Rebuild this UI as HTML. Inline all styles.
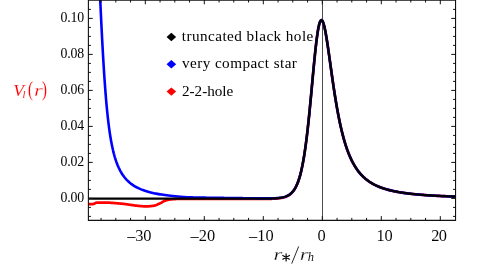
<!DOCTYPE html>
<html><head><meta charset="utf-8"><title>plot</title>
<style>
html,body{margin:0;padding:0;background:#fff;}
body{width:491px;height:275px;overflow:hidden;}
svg{display:block;will-change:transform;opacity:0.999;}
text{font-family:"Liberation Serif",serif;fill:#000;stroke:#fff;stroke-width:0.05px;}
.rd text{fill:#f00;}
.leg text{stroke:none;}
text.thin{stroke-width:0.25px;}
</style></head><body>
<svg width="491" height="275" viewBox="0 0 491 275">
<rect width="491" height="275" fill="#fff"/>
<defs><clipPath id="c"><rect x="88.4" y="0" width="367.15" height="220.4"/></clipPath></defs>
<line x1="322.5" y1="0" x2="322.5" y2="220.4" stroke="#111" stroke-width="0.75"/>
<g clip-path="url(#c)" fill="none" stroke-linejoin="round" stroke-linecap="butt">
<path d="M86.00,204.10 L86.58,204.10 L87.16,204.10 L87.75,204.10 L88.33,204.10 L88.92,204.10 L89.51,204.10 L90.10,204.10 L90.69,204.10 L91.27,204.10 L91.85,204.10 L92.42,204.10 L92.99,204.10 L93.54,204.03 L94.07,203.80 L94.59,203.48 L95.12,203.15 L95.65,202.88 L96.19,202.75 L96.75,202.72 L97.31,202.70 L97.88,202.68 L98.45,202.66 L99.03,202.64 L99.62,202.62 L100.20,202.61 L100.79,202.59 L101.38,202.58 L101.97,202.57 L102.56,202.57 L103.15,202.56 L103.74,202.56 L104.33,202.55 L104.92,202.55 L105.50,202.55 L106.08,202.55 L106.66,202.57 L107.24,202.58 L107.82,202.60 L108.40,202.63 L108.99,202.66 L109.57,202.70 L110.15,202.74 L110.73,202.78 L111.31,202.82 L111.89,202.86 L112.47,202.91 L113.05,202.96 L113.63,203.00 L114.21,203.05 L114.79,203.10 L115.37,203.14 L115.95,203.18 L116.53,203.23 L117.11,203.28 L117.69,203.33 L118.27,203.38 L118.85,203.43 L119.43,203.48 L120.01,203.54 L120.59,203.60 L121.17,203.65 L121.75,203.71 L122.33,203.77 L122.90,203.84 L123.48,203.90 L124.06,203.96 L124.64,204.03 L125.22,204.09 L125.80,204.16 L126.37,204.23 L126.95,204.31 L127.53,204.39 L128.10,204.47 L128.68,204.56 L129.25,204.65 L129.83,204.74 L130.40,204.83 L130.98,204.92 L131.55,205.01 L132.13,205.10 L132.70,205.19 L133.28,205.27 L133.86,205.35 L134.43,205.43 L135.01,205.50 L135.59,205.57 L136.16,205.63 L136.74,205.69 L137.32,205.75 L137.90,205.81 L138.48,205.88 L139.06,205.94 L139.64,206.00 L140.22,206.06 L140.80,206.11 L141.38,206.17 L141.96,206.22 L142.54,206.26 L143.12,206.30 L143.70,206.34 L144.28,206.36 L144.87,206.38 L145.45,206.40 L146.03,206.40 L146.61,206.39 L147.19,206.38 L147.78,206.36 L148.36,206.33 L148.95,206.29 L149.53,206.24 L150.12,206.19 L150.70,206.14 L151.28,206.07 L151.86,206.01 L152.43,205.94 L153.00,205.87 L153.56,205.79 L154.12,205.69 L154.68,205.56 L155.24,205.41 L155.79,205.22 L156.34,205.02 L156.89,204.80 L157.43,204.57 L157.97,204.33 L158.51,204.08 L159.05,203.83 L159.58,203.59 L160.11,203.35 L160.63,203.09 L161.14,202.81 L161.65,202.51 L162.15,202.19 L162.65,201.88 L163.15,201.57 L163.66,201.28 L164.17,201.01 L164.70,200.78 L165.23,200.59 L165.77,200.43 L166.33,200.27 L166.89,200.12 L167.46,199.98 L168.04,199.85 L168.61,199.74 L169.19,199.63 L169.77,199.54 L170.35,199.47 L170.92,199.40 L171.50,199.34 L172.08,199.29 L172.66,199.23 L173.24,199.18 L173.82,199.14 L174.40,199.10 L174.98,199.06 L175.56,199.03 L176.15,199.01 L176.73,199.00 L177.31,198.99 L177.89,198.97 L178.47,198.96 L179.05,198.95 L179.63,198.94 L180.22,198.94 L180.80,198.93 L181.38,198.92 L181.96,198.91 L182.54,198.91 L183.13,198.91 L183.71,198.90 L184.29,198.90 L184.87,198.90 L185.45,198.90 L186.04,198.90 L186.62,198.90 L187.20,198.90 L187.78,198.90 L188.36,198.90 L188.95,198.90 L189.53,198.90 L190.11,198.90 L190.69,198.90 L191.27,198.90 L191.85,198.90 L192.44,198.90 L193.02,198.90 L193.60,198.90 L194.18,198.90 L194.76,198.90 L195.35,198.90 L195.93,198.90 L196.51,198.90 L197.09,198.90 L197.67,198.90 L198.25,198.90 L198.84,198.90 L199.42,198.90 L200.00,198.90 L200.40,199.00 L201.40,199.00 L202.40,199.00 L203.40,199.00 L204.40,199.00 L205.40,199.00 L206.40,199.00 L207.40,199.00 L208.40,199.00 L209.40,199.00 L210.40,199.00 L211.40,199.00 L212.40,199.00 L213.40,199.00 L214.40,199.00 L215.40,199.00 L216.40,199.00 L217.40,199.00 L218.40,199.00 L219.40,199.00 L220.40,199.00 L221.40,199.00 L222.40,199.00 L223.40,199.00 L224.40,199.00 L225.40,199.00 L226.40,199.00 L227.40,199.00 L228.40,199.00 L229.40,199.00 L230.40,199.00 L231.40,199.00 L232.40,199.00 L233.40,199.00 L234.40,199.00 L235.40,199.00 L236.40,199.00 L237.40,199.00 L238.40,199.00 L239.40,199.00 L240.40,199.00 L241.40,199.00 L242.40,199.00 L243.40,199.00 L244.40,199.00 L245.40,199.00 L246.40,199.00 L247.40,199.00 L248.40,199.00 L249.40,199.00 L250.40,198.99 L251.40,198.99 L252.40,198.99 L253.40,198.99 L254.40,198.99 L255.40,198.99 L256.40,198.98 L257.40,198.98 L258.40,198.98 L259.40,198.97 L260.40,198.97 L261.40,198.96 L262.40,198.96 L263.40,198.95 L264.40,198.94 L265.40,198.93 L266.40,198.92 L267.40,198.90 L268.40,198.88 L269.40,198.86 L270.40,198.84 L271.40,198.81 L272.40,198.77 L273.40,198.73 L274.40,198.68 L275.40,198.62 L276.40,198.55 L277.40,198.46 L278.40,198.37 L279.40,198.25 L280.40,198.11 L281.40,197.95 L282.40,197.75 L283.40,197.52 L284.40,197.25 L285.40,196.92 L286.40,196.52 L287.40,196.05 L288.40,195.51 L289.40,194.86 L290.40,194.10 L291.40,193.22 L292.40,192.18 L293.40,190.95 L294.40,189.52 L295.40,187.85 L296.40,185.89 L297.40,183.60 L298.40,180.96 L299.40,177.88 L300.40,174.32 L301.40,170.24 L302.40,165.58 L303.40,160.24 L304.40,154.20 L305.40,147.42 L306.40,139.88 L307.40,131.56 L308.40,122.49 L309.40,112.76 L310.40,102.47 L311.40,91.80 L312.40,80.95 L313.40,70.18 L314.40,59.76 L315.40,50.04 L316.40,41.29 L317.40,33.82 L318.40,27.83 L319.40,23.50 L320.40,20.90 L321.40,20.04 L322.40,20.83 L323.40,23.15 L324.40,26.80 L325.40,31.56 L326.40,37.21 L327.40,43.54 L328.40,50.32 L329.40,57.37 L330.40,64.55 L331.40,71.71 L332.40,78.76 L333.40,85.61 L334.40,92.21 L335.40,98.51 L336.40,104.50 L337.40,110.17 L338.40,115.50 L339.40,120.50 L340.40,125.18 L341.40,129.56 L342.40,133.64 L343.40,137.44 L344.40,140.98 L345.40,144.28 L346.40,147.35 L347.40,150.21 L348.40,152.87 L349.40,155.34 L350.40,157.65 L351.40,159.80 L352.40,161.80 L353.40,163.68 L354.40,165.42 L355.40,167.06 L356.40,168.58 L357.40,170.01 L358.40,171.35 L359.40,172.61 L360.40,173.79 L361.40,174.90 L362.40,175.94 L363.40,176.92 L364.40,177.84 L365.40,178.71 L366.40,179.52 L367.40,180.30 L368.40,181.03 L369.40,181.72 L370.40,182.37 L371.40,182.99 L372.40,183.58 L373.40,184.13 L374.40,184.66 L375.40,185.16 L376.40,185.64 L377.40,186.09 L378.40,186.52 L379.40,186.93 L380.40,187.32 L381.40,187.69 L382.40,188.05 L383.40,188.39 L384.40,188.71 L385.40,189.02 L386.40,189.32 L387.40,189.60 L388.40,189.87 L389.40,190.13 L390.40,190.38 L391.40,190.62 L392.40,190.84 L393.40,191.06 L394.40,191.28 L395.40,191.48 L396.40,191.67 L397.40,191.86 L398.40,192.04 L399.40,192.21 L400.40,192.38 L401.40,192.54 L402.40,192.69 L403.40,192.84 L404.40,192.99 L405.40,193.13 L406.40,193.26 L407.40,193.39 L408.40,193.52 L409.40,193.64 L410.40,193.75 L411.40,193.87 L412.40,193.97 L413.40,194.08 L414.40,194.18 L415.40,194.28 L416.40,194.38 L417.40,194.47 L418.40,194.56 L419.40,194.65 L420.40,194.73 L421.40,194.81 L422.40,194.89 L423.40,194.97 L424.40,195.04 L425.40,195.12 L426.40,195.19 L427.40,195.26 L428.40,195.32 L429.40,195.39 L430.40,195.45 L431.40,195.51 L432.40,195.57 L433.40,195.63 L434.40,195.69 L435.40,195.74 L436.40,195.79 L437.40,195.85 L438.40,195.90 L439.40,195.95 L440.40,195.99 L441.40,196.04 L442.40,196.09 L443.40,196.13 L444.40,196.17 L445.40,196.22 L446.40,196.26 L447.40,196.30 L448.40,196.34 L449.40,196.38 L450.40,196.41 L451.40,196.45 L452.40,196.49 L453.40,196.52 L454.40,196.55 L455.40,196.59" stroke="#ff0000" stroke-width="2.7"/>
<path d="M99.96,-6.00 L100.08,-3.36 L100.20,-0.71 L100.32,1.93 L100.44,4.58 L100.57,7.22 L100.69,9.86 L100.81,12.51 L100.94,15.15 L101.07,17.80 L101.19,20.44 L101.32,23.08 L101.45,25.73 L101.59,28.37 L101.72,31.02 L101.86,33.66 L101.99,36.31 L102.13,38.95 L102.27,41.59 L102.41,44.24 L102.56,46.88 L102.70,49.53 L102.85,52.17 L103.00,54.81 L103.16,57.46 L103.31,60.10 L103.47,62.75 L103.63,65.39 L103.80,68.03 L103.96,70.68 L104.13,73.32 L104.31,75.97 L104.49,78.61 L104.67,81.25 L104.86,83.90 L105.05,86.54 L105.25,89.19 L105.45,91.83 L105.66,94.47 L105.88,97.12 L106.10,99.76 L106.33,102.41 L106.57,105.05 L106.82,107.69 L107.07,110.34 L107.34,112.98 L107.62,115.63 L107.91,118.27 L108.21,120.92 L108.53,123.56 L108.86,126.20 L109.21,128.85 L109.58,131.49 L109.98,134.14 L110.39,136.78 L110.84,139.42 L111.31,142.07 L111.82,144.71 L112.37,147.36 L112.96,150.00 L113.01,150.24 L113.07,150.47 L113.13,150.71 L113.18,150.95 L113.24,151.19 L113.30,151.42 L113.36,151.66 L113.41,151.90 L113.47,152.13 L113.53,152.37 L113.59,152.61 L113.65,152.85 L113.71,153.08 L113.77,153.32 L113.84,153.56 L113.90,153.79 L113.96,154.03 L114.02,154.27 L114.09,154.51 L114.15,154.74 L114.22,154.98 L114.28,155.22 L114.35,155.46 L114.41,155.69 L114.48,155.93 L114.55,156.17 L114.62,156.40 L114.69,156.64 L114.75,156.88 L114.82,157.12 L114.89,157.35 L114.97,157.59 L115.04,157.83 L115.11,158.06 L115.18,158.30 L115.26,158.54 L115.33,158.78 L115.41,159.01 L115.48,159.25 L115.56,159.49 L115.63,159.72 L115.71,159.96 L115.79,160.20 L115.87,160.44 L115.95,160.67 L116.03,160.91 L116.11,161.15 L116.19,161.38 L116.28,161.62 L116.36,161.86 L116.45,162.10 L116.53,162.33 L116.62,162.57 L116.70,162.81 L116.79,163.05 L116.88,163.28 L116.97,163.52 L117.06,163.76 L117.15,163.99 L117.25,164.23 L117.34,164.47 L117.43,164.71 L117.53,164.94 L117.63,165.18 L117.72,165.42 L117.82,165.65 L117.92,165.89 L118.02,166.13 L118.13,166.37 L118.23,166.60 L118.33,166.84 L118.44,167.08 L118.55,167.31 L118.65,167.55 L118.76,167.79 L118.87,168.03 L118.98,168.26 L119.10,168.50 L119.21,168.74 L119.33,168.97 L119.44,169.21 L119.56,169.45 L119.68,169.69 L119.80,169.92 L119.93,170.16 L120.05,170.40 L120.18,170.64 L120.30,170.87 L120.43,171.11 L120.56,171.35 L120.70,171.58 L120.83,171.82 L120.97,172.06 L121.10,172.30 L121.24,172.53 L121.38,172.77 L121.53,173.01 L121.67,173.24 L121.82,173.48 L121.97,173.72 L122.12,173.96 L122.27,174.19 L122.43,174.43 L122.59,174.67 L122.75,174.90 L122.91,175.14 L123.08,175.38 L123.24,175.62 L123.41,175.85 L123.59,176.09 L123.76,176.33 L123.94,176.56 L124.12,176.80 L124.30,177.04 L124.49,177.28 L124.68,177.51 L124.87,177.75 L125.07,177.99 L125.27,178.23 L125.47,178.46 L125.67,178.70 L125.88,178.94 L126.10,179.17 L126.31,179.41 L126.53,179.65 L126.76,179.89 L126.98,180.12 L127.22,180.36 L127.45,180.60 L127.70,180.83 L127.94,181.07 L128.19,181.31 L128.45,181.55 L128.71,181.78 L128.97,182.02 L129.24,182.26 L129.52,182.49 L129.80,182.73 L130.09,182.97 L130.38,183.21 L130.68,183.44 L130.99,183.68 L131.30,183.92 L131.62,184.15 L131.95,184.39 L132.28,184.63 L132.62,184.87 L132.97,185.10 L133.33,185.34 L133.70,185.58 L134.08,185.82 L134.46,186.05 L134.86,186.29 L135.27,186.53 L135.68,186.76 L136.11,187.00 L136.55,187.24 L137.00,187.48 L137.46,187.71 L137.94,187.95 L138.43,188.19 L138.94,188.42 L139.46,188.66 L140.00,188.90 L140.55,189.14 L141.12,189.37 L141.72,189.61 L142.33,189.85 L142.96,190.08 L143.61,190.32 L144.29,190.56 L144.99,190.80 L145.72,191.03 L146.48,191.27 L147.27,191.51 L148.09,191.74 L148.94,191.98 L149.83,192.22 L150.76,192.46 L151.74,192.69 L152.75,192.93 L153.82,193.17 L154.95,193.41 L156.13,193.64 L157.38,193.88 L158.69,194.12 L160.09,194.35 L161.57,194.59 L163.14,194.83 L164.82,195.07 L166.61,195.30 L168.53,195.54 L170.60,195.78 L172.84,196.01 L175.26,196.25 L177.89,196.49 L180.75,196.73 L183.86,196.96 L187.22,197.20 L188.40,197.33 L189.40,197.35 L190.40,197.37 L191.40,197.39 L192.40,197.41 L193.40,197.43 L194.40,197.44 L195.40,197.46 L196.40,197.48 L197.40,197.50 L198.40,197.52 L199.40,197.54 L200.40,197.56 L201.40,197.58 L202.40,197.60 L203.40,197.62 L204.40,197.64 L205.40,197.66 L206.40,197.68 L207.40,197.70 L208.40,197.72 L209.40,197.74 L210.40,197.75 L211.40,197.77 L212.40,197.78 L213.40,197.79 L214.40,197.80 L215.40,197.82 L216.40,197.83 L217.40,197.84 L218.40,197.85 L219.40,197.87 L220.40,197.88 L221.40,197.89 L222.40,197.90 L223.40,197.92 L224.40,197.93 L225.40,197.94 L226.40,197.95 L227.40,197.97 L228.40,197.98 L229.40,197.99 L230.40,198.01 L231.40,198.02 L232.40,198.03 L233.40,198.05 L234.40,198.06 L235.40,198.07 L236.40,198.08 L237.40,198.10 L238.40,198.11 L239.40,198.12 L240.40,198.14 L241.40,198.15 L242.40,198.16 L243.40,198.18 L244.40,198.19 L245.40,198.20 L246.40,198.22 L247.40,198.23 L248.40,198.24 L249.40,198.25 L250.40,198.27 L251.40,198.28 L252.40,198.29 L253.40,198.30 L254.40,198.31 L255.40,198.33 L256.40,198.34 L257.40,198.35 L258.40,198.36 L259.40,198.37 L260.40,198.37 L261.40,198.38 L262.40,198.39 L263.40,198.39 L264.40,198.39 L265.40,198.39 L266.40,198.39 L267.40,198.39 L268.40,198.38 L269.40,198.37 L270.40,198.36 L271.40,198.34 L272.40,198.32 L273.40,198.29 L274.40,198.25 L275.40,198.20 L276.40,198.14 L277.40,198.07 L278.40,197.99 L279.40,197.88 L280.40,197.75 L281.40,197.60 L282.40,197.42 L283.40,197.20 L284.40,196.94 L285.40,196.63 L286.40,196.25 L287.40,195.80 L288.40,195.27 L289.40,194.65 L290.40,193.91 L291.40,193.04 L292.40,192.02 L293.40,190.82 L294.40,189.41 L295.40,187.76 L296.40,185.82 L297.40,183.55 L298.40,180.92 L299.40,177.86 L300.40,174.32 L301.40,170.24 L302.40,165.58 L303.40,160.24 L304.40,154.20 L305.40,147.42 L306.40,139.88 L307.40,131.56 L308.40,122.49 L309.40,112.76 L310.40,102.47 L311.40,91.80 L312.40,80.95 L313.40,70.18 L314.40,59.76 L315.40,50.04 L316.40,41.29 L317.40,33.82 L318.40,27.83 L319.40,23.50 L320.40,20.90 L321.40,20.04 L322.40,20.83 L323.40,23.15 L324.40,26.80 L325.40,31.56 L326.40,37.21 L327.40,43.54 L328.40,50.32 L329.40,57.37 L330.40,64.55 L331.40,71.71 L332.40,78.76 L333.40,85.61 L334.40,92.21 L335.40,98.51 L336.40,104.50 L337.40,110.17 L338.40,115.50 L339.40,120.50 L340.40,125.18 L341.40,129.56 L342.40,133.64 L343.40,137.44 L344.40,140.98 L345.40,144.28 L346.40,147.35 L347.40,150.21 L348.40,152.87 L349.40,155.34 L350.40,157.65 L351.40,159.80 L352.40,161.80 L353.40,163.68 L354.40,165.42 L355.40,167.06 L356.40,168.58 L357.40,170.01 L358.40,171.35 L359.40,172.61 L360.40,173.79 L361.40,174.90 L362.40,175.94 L363.40,176.92 L364.40,177.84 L365.40,178.71 L366.40,179.52 L367.40,180.30 L368.40,181.03 L369.40,181.72 L370.40,182.37 L371.40,182.99 L372.40,183.58 L373.40,184.13 L374.40,184.66 L375.40,185.16 L376.40,185.64 L377.40,186.09 L378.40,186.52 L379.40,186.93 L380.40,187.32 L381.40,187.69 L382.40,188.05 L383.40,188.39 L384.40,188.71 L385.40,189.02 L386.40,189.32 L387.40,189.60 L388.40,189.87 L389.40,190.13 L390.40,190.38 L391.40,190.62 L392.40,190.84 L393.40,191.06 L394.40,191.28 L395.40,191.48 L396.40,191.67 L397.40,191.86 L398.40,192.04 L399.40,192.21 L400.40,192.38 L401.40,192.54 L402.40,192.69 L403.40,192.84 L404.40,192.99 L405.40,193.13 L406.40,193.26 L407.40,193.39 L408.40,193.52 L409.40,193.64 L410.40,193.75 L411.40,193.87 L412.40,193.97 L413.40,194.08 L414.40,194.18 L415.40,194.28 L416.40,194.38 L417.40,194.47 L418.40,194.56 L419.40,194.65 L420.40,194.73 L421.40,194.81 L422.40,194.89 L423.40,194.97 L424.40,195.04 L425.40,195.12 L426.40,195.19 L427.40,195.26 L428.40,195.32 L429.40,195.39 L430.40,195.45 L431.40,195.51 L432.40,195.57 L433.40,195.63 L434.40,195.69 L435.40,195.74 L436.40,195.79 L437.40,195.85 L438.40,195.90 L439.40,195.95 L440.40,195.99 L441.40,196.04 L442.40,196.09 L443.40,196.13 L444.40,196.17 L445.40,196.22 L446.40,196.26 L447.40,196.30 L448.40,196.34 L449.40,196.38 L450.40,196.41 L451.40,196.45 L452.40,196.49 L453.40,196.52 L454.40,196.55 L455.40,196.59" stroke="#0000ff" stroke-width="2.6"/>
<path d="M88.40,198.70 L89.40,198.70 L90.40,198.70 L91.40,198.70 L92.40,198.70 L93.40,198.70 L94.40,198.70 L95.40,198.70 L96.40,198.70 L97.40,198.70 L98.40,198.70 L99.40,198.70 L100.40,198.70 L101.40,198.70 L102.40,198.70 L103.40,198.70 L104.40,198.70 L105.40,198.70 L106.40,198.70 L107.40,198.70 L108.40,198.70 L109.40,198.70 L110.40,198.70 L111.40,198.70 L112.40,198.70 L113.40,198.70 L114.40,198.70 L115.40,198.70 L116.40,198.70 L117.40,198.70 L118.40,198.70 L119.40,198.70 L120.40,198.70 L121.40,198.70 L122.40,198.70 L123.40,198.70 L124.40,198.70 L125.40,198.70 L126.40,198.70 L127.40,198.70 L128.40,198.70 L129.40,198.70 L130.40,198.70 L131.40,198.70 L132.40,198.70 L133.40,198.70 L134.40,198.70 L135.40,198.70 L136.40,198.70 L137.40,198.70 L138.40,198.70 L139.40,198.70 L140.40,198.70 L141.40,198.70 L142.40,198.70 L143.40,198.70 L144.40,198.70 L145.40,198.70 L146.40,198.70 L147.40,198.70 L148.40,198.70 L149.40,198.70 L150.40,198.70 L151.40,198.70 L152.40,198.70 L153.40,198.70 L154.40,198.70 L155.40,198.70 L156.40,198.70 L157.40,198.70 L158.40,198.70 L159.40,198.70 L160.40,198.70 L161.40,198.70 L162.40,198.70 L163.40,198.70 L164.40,198.70 L165.40,198.70 L166.40,198.70 L167.40,198.70 L168.40,198.70 L169.40,198.70 L170.40,198.70 L171.40,198.70 L172.40,198.70 L173.40,198.70 L174.40,198.70 L175.40,198.70 L176.40,198.70 L177.40,198.70 L178.40,198.70 L179.40,198.70 L180.40,198.70 L181.40,198.70 L182.40,198.70 L183.40,198.70 L184.40,198.70 L185.40,198.70 L186.40,198.70 L187.40,198.70 L188.40,198.70 L189.40,198.70 L190.40,198.70 L191.40,198.70 L192.40,198.70 L193.40,198.70 L194.40,198.70 L195.40,198.70 L196.40,198.70 L197.40,198.70 L198.40,198.70 L199.40,198.70 L200.40,198.70 L201.40,198.70 L202.40,198.70 L203.40,198.70 L204.40,198.70 L205.40,198.70 L206.40,198.70 L207.40,198.70 L208.40,198.70 L209.40,198.70 L210.40,198.70 L211.40,198.70 L212.40,198.70 L213.40,198.70 L214.40,198.70 L215.40,198.70 L216.40,198.70 L217.40,198.70 L218.40,198.70 L219.40,198.70 L220.40,198.70 L221.40,198.70 L222.40,198.70 L223.40,198.70 L224.40,198.70 L225.40,198.70 L226.40,198.70 L227.40,198.70 L228.40,198.70 L229.40,198.70 L230.40,198.70 L231.40,198.70 L232.40,198.70 L233.40,198.70 L234.40,198.70 L235.40,198.70 L236.40,198.70 L237.40,198.70 L238.40,198.70 L239.40,198.70 L240.40,198.70 L241.40,198.70 L242.40,198.70 L243.40,198.70 L244.40,198.70 L245.40,198.70 L246.40,198.70 L247.40,198.70 L248.40,198.70 L249.40,198.70 L250.40,198.69 L251.40,198.69 L252.40,198.69 L253.40,198.69 L254.40,198.69 L255.40,198.69 L256.40,198.68 L257.40,198.68 L258.40,198.68 L259.40,198.67 L260.40,198.67 L261.40,198.66 L262.40,198.66 L263.40,198.65 L264.40,198.64 L265.40,198.63 L266.40,198.62 L267.40,198.60 L268.40,198.58 L269.40,198.56 L270.40,198.54 L271.40,198.51 L272.40,198.47 L273.40,198.43 L274.40,198.38 L275.40,198.32 L276.40,198.25 L277.40,198.16 L278.40,198.07 L279.40,197.95 L280.40,197.81 L281.40,197.65 L282.40,197.45 L283.40,197.22 L284.40,196.95 L285.40,196.63 L286.40,196.25 L287.40,195.80 L288.40,195.27 L289.40,194.65 L290.40,193.91 L291.40,193.04 L292.40,192.02 L293.40,190.82 L294.40,189.41 L295.40,187.76 L296.40,185.82 L297.40,183.55 L298.40,180.92 L299.40,177.86 L300.40,174.32 L301.40,170.24 L302.40,165.58 L303.40,160.24 L304.40,154.20 L305.40,147.42 L306.40,139.88 L307.40,131.56 L308.40,122.49 L309.40,112.76 L310.40,102.47 L311.40,91.80 L312.40,80.95 L313.40,70.18 L314.40,59.76 L315.40,50.04 L316.40,41.29 L317.40,33.82 L318.40,27.83 L319.40,23.50 L320.40,20.90 L321.40,20.04 L322.40,20.83 L323.40,23.15 L324.40,26.80 L325.40,31.56 L326.40,37.21 L327.40,43.54 L328.40,50.32 L329.40,57.37 L330.40,64.55 L331.40,71.71 L332.40,78.76 L333.40,85.61 L334.40,92.21 L335.40,98.51 L336.40,104.50 L337.40,110.17 L338.40,115.50 L339.40,120.50 L340.40,125.18 L341.40,129.56 L342.40,133.64 L343.40,137.44 L344.40,140.98 L345.40,144.28 L346.40,147.35 L347.40,150.21 L348.40,152.87 L349.40,155.34 L350.40,157.65 L351.40,159.80 L352.40,161.80 L353.40,163.68 L354.40,165.42 L355.40,167.06 L356.40,168.58 L357.40,170.01 L358.40,171.35 L359.40,172.61 L360.40,173.79 L361.40,174.90 L362.40,175.94 L363.40,176.92 L364.40,177.84 L365.40,178.71 L366.40,179.52 L367.40,180.30 L368.40,181.03 L369.40,181.72 L370.40,182.37 L371.40,182.99 L372.40,183.58 L373.40,184.13 L374.40,184.66 L375.40,185.16 L376.40,185.64 L377.40,186.09 L378.40,186.52 L379.40,186.93 L380.40,187.32 L381.40,187.69 L382.40,188.05 L383.40,188.39 L384.40,188.71 L385.40,189.02 L386.40,189.32 L387.40,189.60 L388.40,189.87 L389.40,190.13 L390.40,190.38 L391.40,190.62 L392.40,190.84 L393.40,191.06 L394.40,191.28 L395.40,191.48 L396.40,191.67 L397.40,191.86 L398.40,192.04 L399.40,192.21 L400.40,192.38 L401.40,192.54 L402.40,192.69 L403.40,192.84 L404.40,192.99 L405.40,193.13 L406.40,193.26 L407.40,193.39 L408.40,193.52 L409.40,193.64 L410.40,193.75 L411.40,193.87 L412.40,193.97 L413.40,194.08 L414.40,194.18 L415.40,194.28 L416.40,194.38 L417.40,194.47 L418.40,194.56 L419.40,194.65 L420.40,194.73 L421.40,194.81 L422.40,194.89 L423.40,194.97 L424.40,195.04 L425.40,195.12 L426.40,195.19 L427.40,195.26 L428.40,195.32 L429.40,195.39 L430.40,195.45 L431.40,195.51 L432.40,195.57 L433.40,195.63 L434.40,195.69 L435.40,195.74 L436.40,195.79 L437.40,195.85 L438.40,195.90 L439.40,195.95 L440.40,195.99 L441.40,196.04 L442.40,196.09 L443.40,196.13 L444.40,196.17 L445.40,196.22 L446.40,196.26 L447.40,196.30 L448.40,196.34 L449.40,196.38 L450.40,196.41 L451.40,196.45 L452.40,196.49 L453.40,196.52 L454.40,196.55 L455.40,196.59" stroke="#000" stroke-width="2.3"/>
</g>
<path d="M88.4,-1 V220.4 H455.55 V-1" fill="none" stroke="#111" stroke-width="1.1"/>
<line x1="88.4" y1="0.2" x2="455.55" y2="0.2" stroke="#111" stroke-width="1.1"/>
<path d="M101.05,220.4 v-2.5 M101.05,0 v2.5 M115.80,220.4 v-2.5 M115.80,0 v2.5 M130.55,220.4 v-2.5 M130.55,0 v2.5 M145.30,220.4 v-4.3 M145.30,0 v4.3 M160.05,220.4 v-2.5 M160.05,0 v2.5 M174.80,220.4 v-2.5 M174.80,0 v2.5 M189.55,220.4 v-2.5 M189.55,0 v2.5 M204.30,220.4 v-4.3 M204.30,0 v4.3 M219.05,220.4 v-2.5 M219.05,0 v2.5 M233.80,220.4 v-2.5 M233.80,0 v2.5 M248.55,220.4 v-2.5 M248.55,0 v2.5 M263.30,220.4 v-4.3 M263.30,0 v4.3 M278.05,220.4 v-2.5 M278.05,0 v2.5 M292.80,220.4 v-2.5 M292.80,0 v2.5 M307.55,220.4 v-2.5 M307.55,0 v2.5 M322.30,220.4 v-4.3 M322.30,0 v4.3 M337.05,220.4 v-2.5 M337.05,0 v2.5 M351.80,220.4 v-2.5 M351.80,0 v2.5 M366.55,220.4 v-2.5 M366.55,0 v2.5 M381.30,220.4 v-4.3 M381.30,0 v4.3 M396.05,220.4 v-2.5 M396.05,0 v2.5 M410.80,220.4 v-2.5 M410.80,0 v2.5 M425.55,220.4 v-2.5 M425.55,0 v2.5 M440.30,220.4 v-4.3 M440.30,0 v4.3 M88.4,216.40 h2.5 M455.55,216.40 h-2.5 M88.4,207.40 h2.5 M455.55,207.40 h-2.5 M88.4,198.40 h4.3 M455.55,198.40 h-4.3 M88.4,189.40 h2.5 M455.55,189.40 h-2.5 M88.4,180.40 h2.5 M455.55,180.40 h-2.5 M88.4,171.40 h2.5 M455.55,171.40 h-2.5 M88.4,162.40 h4.3 M455.55,162.40 h-4.3 M88.4,153.40 h2.5 M455.55,153.40 h-2.5 M88.4,144.40 h2.5 M455.55,144.40 h-2.5 M88.4,135.40 h2.5 M455.55,135.40 h-2.5 M88.4,126.40 h4.3 M455.55,126.40 h-4.3 M88.4,117.40 h2.5 M455.55,117.40 h-2.5 M88.4,108.40 h2.5 M455.55,108.40 h-2.5 M88.4,99.40 h2.5 M455.55,99.40 h-2.5 M88.4,90.40 h4.3 M455.55,90.40 h-4.3 M88.4,81.40 h2.5 M455.55,81.40 h-2.5 M88.4,72.40 h2.5 M455.55,72.40 h-2.5 M88.4,63.40 h2.5 M455.55,63.40 h-2.5 M88.4,54.40 h4.3 M455.55,54.40 h-4.3 M88.4,45.40 h2.5 M455.55,45.40 h-2.5 M88.4,36.40 h2.5 M455.55,36.40 h-2.5 M88.4,27.40 h2.5 M455.55,27.40 h-2.5 M88.4,18.40 h4.3 M455.55,18.40 h-4.3 M88.4,9.40 h2.5 M455.55,9.40 h-2.5" fill="none" stroke="#111" stroke-width="1"/>
<text x="84.2" y="201.6" text-anchor="end" font-size="13.8" textLength="23.6" lengthAdjust="spacing" stroke="none" style="stroke:none">0.00</text>
<text x="84.2" y="165.6" text-anchor="end" font-size="13.8" textLength="23.6" lengthAdjust="spacing" stroke="none" style="stroke:none">0.02</text>
<text x="84.2" y="129.6" text-anchor="end" font-size="13.8" textLength="23.6" lengthAdjust="spacing" stroke="none" style="stroke:none">0.04</text>
<text x="84.2" y="93.6" text-anchor="end" font-size="13.8" textLength="23.6" lengthAdjust="spacing" stroke="none" style="stroke:none">0.06</text>
<text x="84.2" y="57.6" text-anchor="end" font-size="13.8" textLength="23.6" lengthAdjust="spacing" stroke="none" style="stroke:none">0.08</text>
<text x="84.2" y="21.6" text-anchor="end" font-size="13.8" textLength="23.6" lengthAdjust="spacing" stroke="none" style="stroke:none">0.10</text>
<text x="127.2" y="241" font-size="16.4" textLength="24.2" lengthAdjust="spacing">–30</text>
<text x="190.6" y="241" font-size="16.4" textLength="24.6" lengthAdjust="spacing">–20</text>
<text x="249.0" y="241" font-size="16.4" textLength="24.6" lengthAdjust="spacing">–10</text>
<text x="317.5" y="241" font-size="16.4">0</text>
<text x="376.6" y="241" font-size="16.4" textLength="16.2" lengthAdjust="spacing">10</text>
<text x="431.3" y="241" font-size="16.4" textLength="15.7" lengthAdjust="spacing">20</text>

<g font-size="15.2" class="leg">
<path d="M171.35,32.8 l4.8,4.2 l-4.8,4.2 l-4.8,-4.2z" fill="#000"/>
<path d="M171.35,60.1 l4.8,4.2 l-4.8,4.2 l-4.8,-4.2z" fill="#0000ff"/>
<path d="M171.35,87.4 l4.8,4.2 l-4.8,4.2 l-4.8,-4.2z" fill="#ff0000"/>
<text x="181.8" y="40.8" textLength="131.5" lengthAdjust="spacing">truncated black hole</text>
<text x="182.0" y="68.2" textLength="114.9" lengthAdjust="spacing">very compact star</text>
<text x="182.0" y="95.6" textLength="51.3" lengthAdjust="spacing">2-2-hole</text>
</g>
<g font-size="17.5" class="rd">
<text x="13.2" y="95.6" font-style="italic">V</text>
<text x="22.4" y="97.6" font-style="italic" font-size="10.5">l</text>
<text transform="translate(27.9,96.0) scale(0.85,1.2)">(</text>
<text transform="translate(34.0,95.6) scale(1.3,1)" font-style="italic" class="thin">r</text>
<text transform="translate(42.0,96.0) scale(0.85,1.2)">)</text>
</g>
<g font-size="17.5">
<text transform="translate(273.4,259.8) scale(1.3,1)" font-style="italic" class="thin">r</text>
<path d="M286.1,253.7 V260.9 M282.8,255.4 L289.4,259.2 M282.8,259.2 L289.4,255.4" stroke="#000" stroke-width="1.15" stroke-linecap="round" fill="none"/>
<line x1="298.7" y1="246.4" x2="291.7" y2="263.6" stroke="#111" stroke-width="0.9"/>
<text transform="translate(299.8,259.8) scale(1.3,1)" font-style="italic" class="thin">r</text>
<text x="307.8" y="261.4" font-style="italic" font-size="12.5">h</text>
</g>
</svg>
</body></html>
